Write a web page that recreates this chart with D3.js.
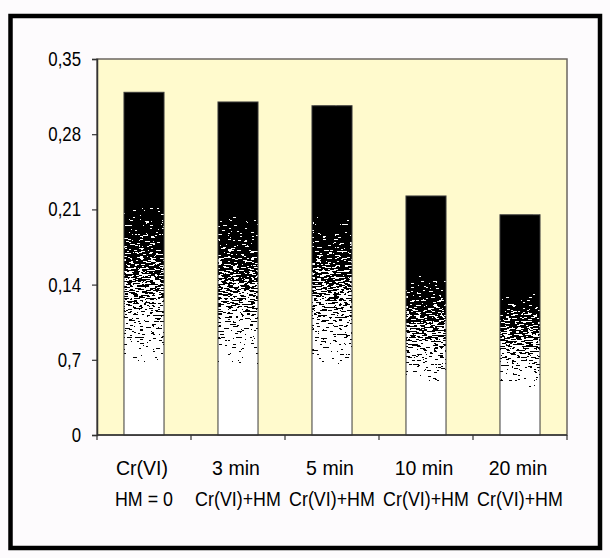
<!DOCTYPE html>
<html>
<head>
<meta charset="utf-8">
<script src="https://cdn.jsdelivr.net/npm/d3@7"></script>
<style>
  html, body { margin: 0; padding: 0; background: #fdfbfd; }
  svg { display: block; }
  text { font-family: "Liberation Sans", Arial, sans-serif; fill: #000; }
</style>
</head>
<body>
<svg id="chart" width="610" height="558"></svg>
<script>
// Cr(VI) absorbance after contact time with HM
const labelsLine1 = ["Cr(VI)", "3 min", "5 min", "10 min", "20 min"];
const labelsLine2 = ["HM = 0", "Cr(VI)+HM", "Cr(VI)+HM", "Cr(VI)+HM", "Cr(VI)+HM"];
const values = [0.319, 0.310, 0.3065, 0.2225, 0.205];
const yTickValues = [0, 0.07, 0.14, 0.21, 0.28, 0.35];
const yTickLabels = ["0", "0,7", "0,14", "0,21", "0,28", "0,35"];

const svg = d3.select("#chart");
const plot = { left: 97, right: 567, top: 59, bottom: 435 };

// squeeze a text run horizontally (narrow typeface look)
function narrow(sel, factor) {
  sel.each(function () {
    const w = this.getComputedTextLength();
    d3.select(this).attr("textLength", w * factor).attr("lengthAdjust", "spacingAndGlyphs");
  });
}

// outer frame
svg.append("rect")
  .attr("x", 10.5).attr("y", 16)
  .attr("width", 600 - 10.5).attr("height", 548 - 16)
  .attr("fill", "#fdfbfd")
  .attr("stroke", "#000").attr("stroke-width", 4.5);

const x = d3.scaleBand().domain(d3.range(values.length))
  .range([plot.left, plot.right]).padding(0);
const y = d3.scaleLinear().domain([0, 0.35]).range([plot.bottom, plot.top]);
const barW = x.bandwidth() * 0.426;

const defs = svg.append("defs");
const grad = defs.append("linearGradient").attr("id", "barGrad")
  .attr("x1", 0).attr("y1", 0).attr("x2", 0).attr("y2", 1);
[[0, "#000"], [0.31, "#000"], [0.81, "#fff"], [1, "#fff"]].forEach(([o, c]) =>
  grad.append("stop").attr("offset", o).attr("stop-color", c));

// halftone: gradient + stretched streaky noise, thresholded to black / white
const f = defs.append("filter").attr("id", "dither")
  .attr("x", 0).attr("y", 0).attr("width", 1).attr("height", 1)
  .attr("color-interpolation-filters", "sRGB");
f.append("feTurbulence").attr("type", "fractalNoise")
  .attr("baseFrequency", "0.18 0.7").attr("numOctaves", 2).attr("seed", 7)
  .attr("result", "noise");
f.append("feColorMatrix").attr("in", "noise").attr("type", "matrix")
  .attr("values", "1 0 0 0 0  1 0 0 0 0  1 0 0 0 0  0 0 0 0 1")
  .attr("result", "gray");
const st = f.append("feComponentTransfer").attr("in", "gray").attr("result", "spread");
["feFuncR", "feFuncG", "feFuncB"].forEach(fn =>
  st.append(fn).attr("type", "linear").attr("slope", 2.2).attr("intercept", -0.6));
f.append("feComposite").attr("in", "SourceGraphic").attr("in2", "spread")
  .attr("operator", "arithmetic")
  .attr("k1", 0).attr("k2", 1).attr("k3", 0.9).attr("k4", -0.45)
  .attr("result", "mix");
const ct = f.append("feComponentTransfer").attr("in", "mix").attr("result", "bw");
["feFuncR", "feFuncG", "feFuncB"].forEach(fn =>
  ct.append(fn).attr("type", "discrete").attr("tableValues", "0 1"));
f.append("feComposite").attr("in", "bw").attr("in2", "SourceAlpha").attr("operator", "in");

// plot area
svg.append("rect")
  .attr("x", plot.left).attr("y", plot.top)
  .attr("width", plot.right - plot.left).attr("height", plot.bottom - plot.top)
  .attr("fill", "#fffacd")
  .attr("stroke", "#6b6660").attr("stroke-width", 1.5);

// bars
const bars = svg.append("g");
bars.selectAll("rect.fill").data(values).join("rect")
  .attr("class", "fill")
  .attr("x", (d, i) => x(i) + x.bandwidth() / 2 - barW / 2)
  .attr("y", d => y(d))
  .attr("width", barW)
  .attr("height", d => y(0) - y(d))
  .attr("fill", "url(#barGrad)")
  .attr("filter", "url(#dither)");
bars.selectAll("rect.edge").data(values).join("rect")
  .attr("class", "edge")
  .attr("x", (d, i) => x(i) + x.bandwidth() / 2 - barW / 2)
  .attr("y", d => y(d))
  .attr("width", barW)
  .attr("height", d => y(0) - y(d))
  .attr("fill", "none")
  .attr("stroke", "#3a3a3a").attr("stroke-width", 1);

// y axis
const yAxis = d3.axisLeft(y).tickValues(yTickValues)
  .tickFormat((d, i) => yTickLabels[i]).tickSize(5).tickPadding(11);
const gy = svg.append("g").attr("transform", `translate(${plot.left},0)`).call(yAxis);
gy.select(".domain").attr("stroke", "#333").attr("stroke-width", 1.5);
gy.selectAll(".tick line").attr("stroke", "#333").attr("stroke-width", 1.2);
gy.selectAll(".tick text").style("font-size", "20px")
  .style("font-family", "'Liberation Sans', Arial, sans-serif").attr("fill", "#000")
  .call(narrow, 0.84);

// x axis line with ticks at category boundaries
const gx = svg.append("g");
gx.append("line")
  .attr("x1", plot.left).attr("x2", plot.right)
  .attr("y1", y(0)).attr("y2", y(0))
  .attr("stroke", "#333").attr("stroke-width", 1.5);
const bounds = d3.range(values.length).map(i => x(i)).concat([x.range()[1]]);
gx.selectAll("line.tk").data(bounds).join("line")
  .attr("class", "tk")
  .attr("x1", d => d).attr("x2", d => d)
  .attr("y1", y(0)).attr("y2", y(0) + 5)
  .attr("stroke", "#333").attr("stroke-width", 1.2);

// category labels, two lines
const lab = svg.append("g").style("font-size", "21px").attr("text-anchor", "middle");
lab.selectAll("text.l1").data(labelsLine1).join("text")
  .attr("class", "l1")
  .attr("x", (d, i) => x(i) + x.bandwidth() / 2 - 2)
  .attr("y", 475)
  .text(d => d)
  .call(narrow, 0.93);
lab.selectAll("text.l2").data(labelsLine2).join("text")
  .attr("class", "l2")
  .attr("x", (d, i) => x(i) + x.bandwidth() / 2)
  .attr("y", 506)
  .text(d => d)
  .call(narrow, 0.85);
</script>
</body>
</html>
